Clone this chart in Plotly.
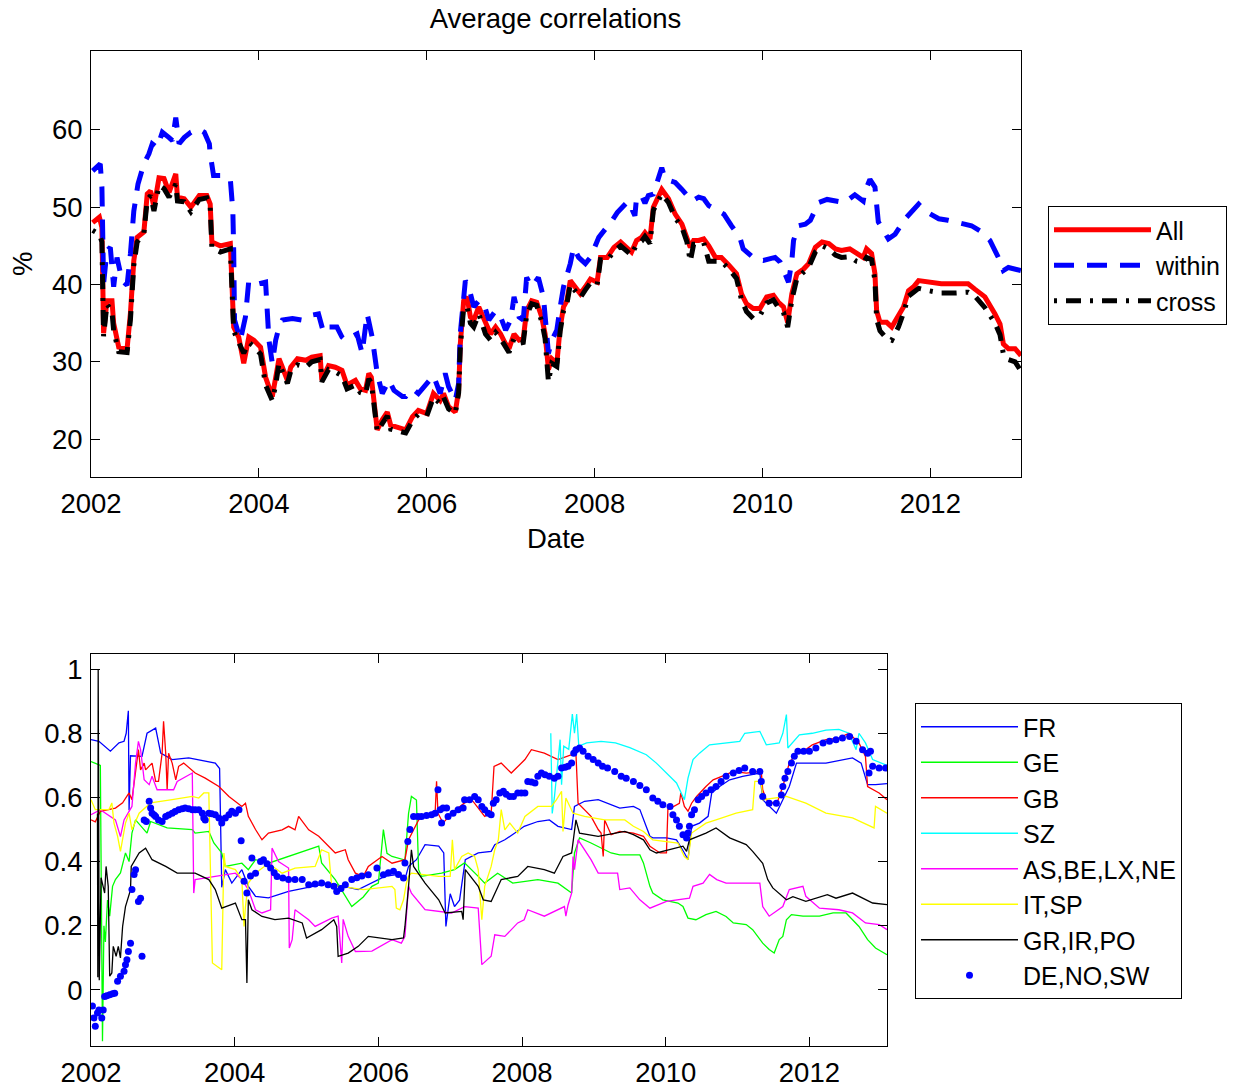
import plotly.graph_objects as go

# ---------------- Top panel: average correlations (%) ----------------
all_x = [2002.02,2002.10,2002.13,2002.15,2002.19,2002.25,2002.27,2002.33,2002.43,2002.47,2002.51,2002.55,2002.63,2002.67,2002.71,2002.75,2002.81,2002.87,2002.93,2003.01,2003.03,2003.11,2003.19,2003.29,2003.38,2003.42,2003.44,2003.54,2003.66,2003.68,2003.70,2003.76,2003.82,2003.88,2003.94,2004.02,2004.08,2004.16,2004.20,2004.24,2004.28,2004.34,2004.38,2004.46,2004.56,2004.63,2004.73,2004.75,2004.83,2004.91,2004.99,2005.05,2005.15,2005.21,2005.27,2005.31,2005.34,2005.41,2005.47,2005.53,2005.57,2005.65,2005.75,2005.83,2005.90,2006.00,2006.08,2006.16,2006.20,2006.26,2006.34,2006.38,2006.40,2006.44,2006.48,2006.52,2006.56,2006.62,2006.70,2006.76,2006.82,2006.88,2006.94,2006.98,2007.04,2007.10,2007.15,2007.19,2007.25,2007.31,2007.37,2007.41,2007.45,2007.49,2007.55,2007.59,2007.63,2007.67,2007.71,2007.77,2007.83,2007.89,2007.95,2008.03,2008.07,2008.15,2008.23,2008.31,2008.39,2008.44,2008.50,2008.56,2008.60,2008.66,2008.70,2008.80,2008.88,2008.96,2009.04,2009.10,2009.14,2009.18,2009.24,2009.30,2009.36,2009.44,2009.51,2009.60,2009.69,2009.75,2009.81,2009.89,2009.97,2010.05,2010.13,2010.19,2010.25,2010.30,2010.35,2010.41,2010.49,2010.55,2010.63,2010.71,2010.79,2010.87,2010.94,2011.04,2011.12,2011.20,2011.24,2011.30,2011.34,2011.36,2011.40,2011.48,2011.54,2011.62,2011.68,2011.74,2011.80,2011.86,2011.98,2012.13,2012.29,2012.45,2012.53,2012.65,2012.77,2012.83,2012.87,2012.93,2013.01,2013.08]
all_y = [48.0,48.7,47.4,33.7,37.9,37.9,35.0,31.9,31.7,36.3,43.1,46.1,46.8,51.7,52.1,50.0,53.8,53.7,51.9,54.3,51.3,51.1,50.0,51.5,51.5,50.4,45.5,45.0,45.3,37.9,34.5,33.2,29.8,33.2,32.8,31.9,28.0,25.5,27.6,30.4,29.3,27.6,29.3,30.4,30.2,30.6,30.8,27.6,29.5,29.3,28.9,27.0,27.6,26.5,26.3,28.5,28.0,21.2,22.5,23.5,21.8,21.6,21.2,22.9,23.7,23.3,25.9,25.0,25.9,24.2,23.5,26.3,32.3,37.9,38.4,35.8,35.4,37.1,34.9,33.6,34.5,33.6,32.3,31.7,33.6,32.8,33.0,36.6,37.9,37.7,35.8,33.6,29.0,30.4,29.8,34.5,37.1,37.9,40.5,39.7,38.8,39.7,40.7,40.3,43.5,43.5,44.8,45.5,44.8,44.2,45.7,46.1,46.7,45.9,50.0,52.3,51.1,49.1,47.8,46.1,44.8,45.7,45.7,45.9,45.0,43.5,43.5,42.5,41.4,38.8,37.5,36.9,36.9,38.4,38.6,37.7,37.1,35.1,38.8,41.4,42.0,42.7,44.8,45.5,45.3,44.6,44.4,44.6,44.0,43.5,44.6,44.0,41.4,36.6,35.1,35.1,34.5,36.0,37.1,39.2,39.7,40.5,40.3,40.1,40.1,40.1,39.4,38.4,36.2,34.9,32.3,31.7,31.7,30.8]

within_x = [2002.02,2002.11,2002.13,2002.14,2002.15,2002.19,2002.23,2002.27,2002.31,2002.37,2002.43,2002.47,2002.51,2002.56,2002.63,2002.69,2002.73,2002.79,2002.85,2002.93,2002.97,2003.01,2003.05,2003.11,2003.19,2003.29,2003.35,2003.41,2003.42,2003.46,2003.56,2003.66,2003.69,2003.70,2003.71,2003.78,2003.84,2003.88,2004.00,2004.08,2004.09,2004.12,2004.16,2004.20,2004.24,2004.28,2004.40,2004.51,2004.61,2004.71,2004.77,2004.83,2004.93,2004.99,2005.03,2005.11,2005.17,2005.23,2005.26,2005.29,2005.35,2005.41,2005.47,2005.55,2005.61,2005.71,2005.75,2005.83,2005.90,2006.04,2006.08,2006.16,2006.22,2006.26,2006.34,2006.38,2006.40,2006.46,2006.50,2006.56,2006.62,2006.68,2006.74,2006.82,2006.88,2006.94,2007.00,2007.04,2007.10,2007.15,2007.19,2007.25,2007.33,2007.39,2007.43,2007.45,2007.49,2007.55,2007.59,2007.63,2007.71,2007.75,2007.81,2007.89,2007.95,2008.05,2008.21,2008.27,2008.40,2008.48,2008.50,2008.56,2008.60,2008.64,2008.70,2008.80,2008.84,2008.96,2009.04,2009.16,2009.24,2009.30,2009.36,2009.54,2009.63,2009.73,2009.77,2009.91,2010.01,2010.15,2010.21,2010.31,2010.35,2010.37,2010.43,2010.51,2010.57,2010.67,2010.77,2010.98,2011.10,2011.20,2011.22,2011.28,2011.34,2011.36,2011.38,2011.50,2011.58,2011.70,2011.86,2011.94,2012.10,2012.21,2012.41,2012.49,2012.61,2012.71,2012.81,2012.87,2012.93,2013.08]
within_y = [54.7,55.6,52.6,48.7,40.1,44.4,44.8,39.7,43.5,40.5,39.9,44.0,49.5,53.0,55.6,56.9,58.2,57.7,59.7,59.0,58.6,61.6,58.2,59.0,59.7,60.1,59.7,58.2,56.9,54.1,54.1,53.6,49.5,44.4,35.4,32.8,35.8,40.5,40.1,40.3,37.9,32.8,29.8,32.8,34.5,35.4,35.6,35.4,36.0,36.2,33.8,34.5,34.5,33.2,32.8,33.2,33.6,31.1,33.6,36.2,33.2,28.5,25.9,27.6,26.3,25.5,25.5,26.5,25.9,27.6,28.2,25.9,28.5,26.8,25.0,27.2,33.7,40.5,39.7,37.1,37.9,37.5,35.4,36.6,35.8,34.1,35.4,38.4,35.8,35.4,40.9,39.7,40.9,38.4,34.1,31.1,32.8,34.1,37.1,39.7,42.7,44.8,43.5,42.7,43.5,46.1,48.3,49.3,50.8,48.9,51.3,51.5,50.5,51.5,51.7,55.1,53.6,53.2,52.3,50.8,51.3,51.1,50.2,49.1,47.6,46.1,44.6,43.3,43.1,43.5,42.9,40.3,43.1,45.7,47.6,47.8,48.3,50.6,51.0,50.6,51.6,50.8,52.0,53.6,52.6,49.1,48.1,45.9,46.5,48.5,50.4,49.5,48.5,48.3,47.8,47.6,46.8,45.7,43.5,41.8,42.2,41.8]

cross_x = [2002.02,2002.10,2002.13,2002.15,2002.19,2002.25,2002.27,2002.33,2002.43,2002.47,2002.51,2002.55,2002.63,2002.67,2002.71,2002.75,2002.81,2002.87,2002.93,2003.01,2003.03,2003.11,2003.19,2003.29,2003.38,2003.42,2003.44,2003.54,2003.66,2003.68,2003.70,2003.76,2003.82,2003.88,2003.94,2004.02,2004.08,2004.16,2004.20,2004.24,2004.28,2004.34,2004.38,2004.46,2004.56,2004.63,2004.73,2004.75,2004.83,2004.91,2004.99,2005.05,2005.15,2005.21,2005.27,2005.31,2005.34,2005.41,2005.47,2005.53,2005.57,2005.65,2005.75,2005.83,2005.90,2006.00,2006.08,2006.16,2006.20,2006.26,2006.34,2006.38,2006.40,2006.44,2006.48,2006.52,2006.56,2006.62,2006.70,2006.76,2006.82,2006.88,2006.94,2006.98,2007.04,2007.10,2007.15,2007.19,2007.25,2007.31,2007.37,2007.41,2007.45,2007.49,2007.55,2007.59,2007.63,2007.67,2007.71,2007.77,2007.83,2007.89,2007.95,2008.03,2008.07,2008.15,2008.23,2008.31,2008.39,2008.44,2008.50,2008.56,2008.60,2008.66,2008.70,2008.80,2008.88,2008.96,2009.04,2009.10,2009.14,2009.18,2009.24,2009.30,2009.36,2009.44,2009.51,2009.60,2009.69,2009.75,2009.81,2009.89,2009.97,2010.05,2010.13,2010.19,2010.25,2010.30,2010.35,2010.41,2010.49,2010.55,2010.63,2010.71,2010.79,2010.87,2010.94,2011.04,2011.12,2011.20,2011.24,2011.30,2011.34,2011.36,2011.40,2011.48,2011.54,2011.62,2011.68,2011.74,2011.80,2011.86,2011.98,2012.13,2012.29,2012.45,2012.53,2012.65,2012.77,2012.83,2012.87,2012.93,2013.01,2013.08]
cross_y = [47.0,46.5,45.5,33.3,37.5,36.5,34.0,31.3,31.2,35.5,42.5,45.5,46.6,51.0,51.5,49.5,52.8,52.4,51.3,53.0,50.8,50.7,49.4,51.0,51.2,50.0,44.7,44.2,44.6,37.5,34.0,32.5,31.1,32.5,32.0,31.0,27.0,25.0,27.0,29.8,28.6,27.2,28.8,29.6,29.3,30.0,30.3,27.4,29.0,28.7,28.2,26.5,27.0,26.0,25.8,27.8,27.3,21.0,22.0,23.0,21.3,21.1,20.8,22.4,23.2,23.0,25.4,24.6,25.4,23.9,23.3,26.0,32.0,37.0,37.1,35.0,34.5,36.2,33.6,32.8,33.8,33.0,31.8,31.2,33.0,32.4,32.5,36.0,37.5,37.3,35.2,33.0,27.4,29.8,29.4,34.0,36.6,37.5,40.0,39.2,38.3,39.3,40.2,39.9,43.2,43.1,44.3,45.0,44.2,43.8,45.2,45.6,46.2,45.3,49.6,51.7,50.6,48.6,47.4,45.5,43.0,45.2,45.2,45.4,43.0,43.0,43.0,42.0,40.8,38.0,36.5,35.6,36.0,37.6,38.0,37.0,36.4,34.5,38.0,40.8,41.5,42.2,44.2,45.0,44.6,43.8,43.5,43.6,43.0,42.8,43.5,43.2,40.5,35.5,34.0,33.0,32.8,34.5,36.3,38.5,39.0,39.5,39.2,38.9,38.9,39.0,38.5,37.0,35.0,33.5,31.0,30.3,30.0,28.8]

# ---------------- Bottom panel: country-group correlations ----------------
fr_x = [2002.00,2002.11,2002.27,2002.39,2002.46,2002.49,2002.52,2002.53,2002.55,2002.71,2002.78,2002.90,2002.97,2003.13,2003.36,2003.59,2003.73,2003.79,2003.82,2003.87,2003.96,2004.10,2004.19,2004.29,2004.47,2004.75,2005.12,2005.31,2005.72,2005.91,2006.09,2006.28,2006.37,2006.42,2006.53,2006.65,2006.84,2006.91,2006.94,2007.00,2007.06,2007.13,2007.21,2007.39,2007.57,2007.62,2007.76,2007.90,2008.03,2008.22,2008.38,2008.50,2008.69,2008.73,2008.87,2009.06,2009.24,2009.36,2009.55,2009.64,2009.78,2009.82,2010.01,2010.15,2010.26,2010.31,2010.36,2010.47,2010.59,2010.64,2010.75,2010.89,2011.07,2011.31,2011.35,2011.49,2011.54,2011.63,2011.72,2011.82,2011.95,2012.23,2012.60,2012.72,2012.81,2012.92,2013.08]
fr_y = [0.780,0.775,0.744,0.770,0.775,0.800,0.870,0.560,0.730,0.728,0.800,0.816,0.738,0.718,0.723,0.712,0.707,0.690,0.320,0.375,0.333,0.375,0.323,0.292,0.287,0.307,0.323,0.333,0.313,0.333,0.354,0.360,0.345,0.385,0.406,0.453,0.448,0.427,0.198,0.300,0.260,0.280,0.406,0.427,0.432,0.453,0.468,0.489,0.510,0.525,0.530,0.510,0.500,0.572,0.588,0.593,0.577,0.567,0.572,0.562,0.479,0.474,0.474,0.468,0.427,0.406,0.510,0.520,0.541,0.614,0.634,0.655,0.666,0.676,0.593,0.562,0.551,0.593,0.634,0.707,0.707,0.707,0.723,0.707,0.640,0.640,0.643]

ge_x = [2002.00,2002.13,2002.16,2002.18,2002.20,2002.23,2002.26,2002.30,2002.34,2002.41,2002.48,2002.53,2002.57,2002.62,2002.78,2002.83,2003.06,2003.41,2003.45,2003.64,2003.71,2003.82,2003.87,2004.10,2004.19,2004.29,2004.47,2004.75,2004.89,2005.17,2005.21,2005.40,2005.63,2005.79,2005.91,2006.00,2006.07,2006.12,2006.19,2006.37,2006.42,2006.46,2006.53,2006.56,2006.60,2006.88,2007.06,2007.20,2007.39,2007.48,2007.66,2007.87,2008.22,2008.50,2008.69,2008.73,2008.80,2008.96,2009.24,2009.36,2009.64,2009.69,2009.78,2009.82,2009.96,2010.06,2010.17,2010.24,2010.31,2010.42,2010.56,2010.70,2010.84,2010.94,2011.12,2011.21,2011.35,2011.44,2011.51,2011.58,2011.63,2011.68,2011.75,2011.91,2012.14,2012.33,2012.51,2012.60,2012.69,2012.81,2012.92,2013.08]
ge_y = [0.712,0.700,-0.160,0.200,0.150,0.280,0.230,0.323,0.344,0.365,0.427,0.400,0.489,0.530,0.489,0.525,0.505,0.500,0.489,0.494,0.458,0.427,0.385,0.395,0.375,0.406,0.395,0.416,0.427,0.448,0.396,0.344,0.260,0.290,0.323,0.333,0.500,0.426,0.416,0.405,0.550,0.603,0.592,0.375,0.354,0.364,0.375,0.396,0.354,0.333,0.364,0.333,0.344,0.333,0.302,0.427,0.474,0.458,0.427,0.421,0.421,0.396,0.323,0.302,0.281,0.276,0.271,0.260,0.224,0.219,0.235,0.245,0.229,0.209,0.204,0.188,0.146,0.126,0.115,0.157,0.167,0.219,0.235,0.230,0.230,0.240,0.240,0.219,0.198,0.157,0.131,0.110]

gb_x = [2002.00,2002.06,2002.13,2002.34,2002.44,2002.53,2002.57,2002.62,2002.66,2002.69,2002.74,2002.76,2002.85,2002.90,2002.94,2002.99,2003.01,2003.04,2003.06,2003.08,2003.13,2003.18,2003.22,2003.29,2003.45,2003.59,2003.78,2003.92,2004.10,2004.15,2004.19,2004.29,2004.38,2004.47,2004.66,2004.75,2004.84,2004.89,2005.03,2005.17,2005.26,2005.40,2005.54,2005.58,2005.68,2005.79,2005.86,2006.05,2006.19,2006.37,2006.42,2006.49,2006.56,2006.74,2006.79,2006.81,2006.83,2006.90,2007.02,2007.20,2007.30,2007.48,2007.57,2007.61,2007.71,2007.85,2008.04,2008.13,2008.31,2008.50,2008.75,2008.78,2008.96,2009.06,2009.10,2009.13,2009.15,2009.24,2009.36,2009.55,2009.69,2009.78,2009.92,2010.01,2010.03,2010.19,2010.21,2010.26,2010.31,2010.36,2010.43,2010.56,2010.66,2010.84,2010.94,2011.12,2011.33,2011.35,2011.40,2011.54,2011.58,2011.63,2011.72,2011.82,2011.95,2012.04,2012.23,2012.41,2012.55,2012.69,2012.78,2012.81,2012.97,2013.08]
gb_y = [0.530,0.524,0.557,0.567,0.583,0.614,0.593,0.686,0.749,0.686,0.707,0.686,0.707,0.650,0.650,0.738,0.837,0.738,0.624,0.738,0.707,0.655,0.697,0.707,0.676,0.660,0.634,0.603,0.572,0.582,0.541,0.500,0.468,0.489,0.499,0.510,0.499,0.541,0.499,0.479,0.458,0.427,0.437,0.406,0.364,0.354,0.385,0.416,0.395,0.406,0.468,0.500,0.530,0.551,0.551,0.650,0.551,0.520,0.551,0.583,0.593,0.541,0.551,0.697,0.707,0.676,0.718,0.749,0.738,0.718,0.738,0.582,0.541,0.500,0.489,0.416,0.530,0.484,0.494,0.489,0.479,0.448,0.427,0.427,0.562,0.582,0.614,0.572,0.557,0.582,0.603,0.634,0.655,0.671,0.681,0.676,0.681,0.624,0.593,0.577,0.603,0.634,0.707,0.738,0.749,0.764,0.780,0.785,0.800,0.770,0.728,0.634,0.614,0.593]

sz_x = [2008.40,2008.42,2008.45,2008.53,2008.55,2008.58,2008.65,2008.70,2008.73,2008.76,2008.79,2008.90,2009.10,2009.30,2009.50,2009.73,2009.87,2010.01,2010.15,2010.26,2010.31,2010.38,2010.47,2010.61,2010.84,2011.03,2011.10,2011.31,2011.40,2011.58,2011.63,2011.68,2011.70,2011.86,2012.04,2012.23,2012.41,2012.55,2012.65,2012.69,2012.78,2012.88,2013.08]
sz_y = [0.800,0.550,0.600,0.780,0.640,0.760,0.750,0.860,0.800,0.860,0.760,0.770,0.775,0.770,0.755,0.733,0.707,0.676,0.645,0.593,0.660,0.718,0.738,0.764,0.770,0.775,0.800,0.806,0.764,0.770,0.800,0.858,0.754,0.795,0.800,0.810,0.812,0.800,0.749,0.800,0.770,0.718,0.700]

as_x = [2002.00,2002.13,2002.34,2002.39,2002.41,2002.46,2002.57,2002.62,2002.66,2002.69,2002.74,2002.81,2002.85,2002.92,2003.15,2003.20,2003.36,2003.41,2003.43,2003.45,2003.73,2004.01,2004.10,2004.19,2004.29,2004.38,2004.50,2004.52,2004.61,2004.75,2004.76,2004.80,2004.84,2005.03,2005.12,2005.35,2005.44,2005.49,2005.51,2005.58,2005.68,2005.79,2005.91,2006.19,2006.32,2006.37,2006.42,2006.46,2006.65,2007.02,2007.20,2007.39,2007.44,2007.57,2007.62,2007.76,2007.94,2008.03,2008.08,2008.31,2008.50,2008.59,2008.61,2008.64,2008.69,2008.71,2008.73,2008.78,2008.96,2009.06,2009.33,2009.36,2009.50,2009.64,2009.78,2010.01,2010.33,2010.38,2010.52,2010.61,2010.71,2010.84,2011.31,2011.35,2011.44,2011.63,2011.72,2011.91,2011.95,2012.14,2012.41,2012.60,2012.78,2012.97,2013.08]
as_y = [0.546,0.562,0.530,0.489,0.478,0.530,0.572,0.707,0.775,0.749,0.655,0.640,0.666,0.624,0.624,0.650,0.671,0.676,0.302,0.344,0.354,0.364,0.344,0.313,0.250,0.240,0.250,0.442,0.400,0.380,0.131,0.157,0.250,0.219,0.198,0.224,0.230,0.084,0.220,0.167,0.120,0.120,0.121,0.157,0.146,0.167,0.323,0.302,0.250,0.240,0.260,0.255,0.079,0.105,0.172,0.167,0.209,0.219,0.250,0.230,0.250,0.260,0.230,0.265,0.302,0.416,0.375,0.468,0.406,0.364,0.364,0.313,0.318,0.281,0.255,0.276,0.286,0.323,0.333,0.360,0.344,0.333,0.333,0.260,0.230,0.260,0.313,0.323,0.292,0.255,0.250,0.240,0.209,0.204,0.188]

it_x = [2002.00,2002.06,2002.25,2002.29,2002.32,2002.37,2002.41,2002.48,2002.53,2002.57,2002.67,2002.83,2003.13,2003.41,2003.50,2003.57,2003.64,2003.69,2003.82,2003.85,2003.87,2004.01,2004.10,2004.13,2004.15,2004.19,2004.29,2004.47,2004.66,2004.84,2005.12,2005.17,2005.21,2005.31,2005.35,2005.49,2005.79,2006.19,2006.23,2006.25,2006.30,2006.35,2006.39,2006.42,2006.46,2006.84,2007.00,2007.03,2007.06,2007.16,2007.25,2007.34,2007.39,2007.44,2007.48,2007.57,2007.62,2007.67,2007.71,2007.76,2007.83,2007.94,2008.04,2008.22,2008.41,2008.48,2008.55,2008.57,2008.61,2008.71,2008.87,2009.15,2009.43,2009.55,2009.69,2009.82,2010.17,2010.26,2010.31,2010.36,2010.56,2010.70,2010.98,2011.21,2011.24,2011.33,2011.35,2011.68,2011.95,2012.23,2012.60,2012.90,2012.92,2013.08]
it_y = [0.593,0.562,0.562,0.583,0.520,0.479,0.432,0.520,0.551,0.499,0.551,0.583,0.593,0.603,0.598,0.614,0.614,0.084,0.063,0.427,0.385,0.375,0.344,0.198,0.260,0.333,0.364,0.395,0.364,0.380,0.385,0.416,0.437,0.427,0.323,0.323,0.313,0.323,0.313,0.255,0.250,0.281,0.333,0.354,0.364,0.354,0.354,0.468,0.375,0.416,0.427,0.416,0.375,0.219,0.323,0.385,0.437,0.468,0.562,0.499,0.520,0.489,0.541,0.572,0.572,0.593,0.619,0.494,0.598,0.551,0.541,0.530,0.530,0.510,0.494,0.468,0.458,0.416,0.406,0.489,0.520,0.530,0.551,0.562,0.650,0.650,0.593,0.603,0.582,0.551,0.536,0.505,0.572,0.551]

gr_x = [2002.09,2002.095,2002.10,2002.115,2002.14,2002.17,2002.19,2002.21,2002.24,2002.26,2002.29,2002.31,2002.35,2002.38,2002.41,2002.44,2002.48,2002.55,2002.56,2002.67,2002.76,2002.85,2003.04,2003.20,2003.45,2003.64,2003.73,2003.82,2004.01,2004.10,2004.15,2004.17,2004.19,2004.24,2004.38,2004.56,2004.75,2004.94,2005.00,2005.21,2005.38,2005.42,2005.44,2005.58,2005.72,2005.86,2006.19,2006.35,2006.37,2006.42,2006.46,2006.49,2006.65,2006.84,2006.93,2007.16,2007.18,2007.21,2007.39,2007.46,2007.57,2007.71,2007.94,2008.08,2008.31,2008.45,2008.57,2008.69,2008.75,2008.80,2009.06,2009.43,2009.55,2009.69,2009.78,2009.87,2010.24,2010.29,2010.33,2010.56,2010.70,2010.89,2011.12,2011.21,2011.35,2011.42,2011.49,2011.68,2011.77,2011.95,2012.25,2012.37,2012.60,2012.88,2013.08]
gr_y = [0.550,0.040,1.000,0.030,0.350,0.323,0.302,0.385,0.323,0.043,0.053,0.136,0.105,0.136,0.100,0.198,0.260,0.312,0.385,0.427,0.442,0.406,0.385,0.364,0.364,0.344,0.313,0.255,0.271,0.219,0.219,0.022,0.281,0.250,0.229,0.219,0.224,0.209,0.162,0.188,0.219,0.198,0.105,0.115,0.136,0.167,0.157,0.162,0.198,0.323,0.437,0.385,0.333,0.281,0.240,0.245,0.219,0.375,0.323,0.281,0.276,0.344,0.354,0.385,0.375,0.364,0.416,0.427,0.530,0.489,0.479,0.494,0.484,0.468,0.437,0.427,0.448,0.432,0.468,0.489,0.505,0.474,0.453,0.432,0.395,0.344,0.318,0.281,0.291,0.276,0.297,0.286,0.302,0.271,0.266]

de_x = [2002.02,2002.04,2002.06,2002.09,2002.11,2002.15,2002.17,2002.19,2002.22,2002.26,2002.30,2002.33,2002.37,2002.41,2002.46,2002.48,2002.50,2002.52,2002.55,2002.57,2002.60,2002.62,2002.66,2002.69,2002.71,2002.74,2002.77,2002.81,2002.83,2002.85,2002.88,2002.90,2002.94,2002.99,2003.04,2003.08,2003.13,2003.17,2003.22,2003.27,2003.31,2003.36,2003.41,2003.45,2003.50,2003.55,2003.57,2003.59,2003.64,2003.68,2003.73,2003.78,2003.82,2003.87,2003.92,2003.96,2004.01,2004.06,2004.09,2004.13,2004.17,2004.22,2004.24,2004.29,2004.36,2004.40,2004.45,2004.50,2004.55,2004.59,2004.67,2004.75,2004.84,2004.94,2005.03,2005.12,2005.21,2005.30,2005.38,2005.42,2005.48,2005.54,2005.63,2005.70,2005.77,2005.86,2005.98,2006.07,2006.14,2006.21,2006.28,2006.35,2006.37,2006.41,2006.44,2006.49,2006.55,2006.60,2006.67,2006.74,2006.79,2006.83,2006.86,2006.88,2006.90,2006.95,2006.97,2007.04,2007.11,2007.18,2007.20,2007.27,2007.34,2007.39,2007.44,2007.48,2007.53,2007.57,2007.60,2007.64,2007.69,2007.74,2007.78,2007.83,2007.88,2007.94,2007.99,2008.04,2008.08,2008.13,2008.18,2008.22,2008.27,2008.32,2008.38,2008.45,2008.50,2008.55,2008.60,2008.64,2008.69,2008.72,2008.75,2008.80,2008.85,2008.92,2008.99,2009.06,2009.12,2009.19,2009.29,2009.38,2009.45,2009.55,2009.64,2009.73,2009.82,2009.89,2009.96,2010.06,2010.10,2010.15,2010.19,2010.24,2010.29,2010.31,2010.33,2010.36,2010.40,2010.45,2010.50,2010.56,2010.63,2010.70,2010.77,2010.84,2010.94,2011.02,2011.10,2011.21,2011.31,2011.33,2011.35,2011.44,2011.54,2011.61,2011.63,2011.66,2011.70,2011.75,2011.79,2011.84,2011.92,2012.00,2012.09,2012.19,2012.28,2012.37,2012.46,2012.56,2012.65,2012.74,2012.81,2012.83,2012.85,2012.88,2012.97,2013.06]
de_y = [-0.050,-0.087,-0.113,-0.072,-0.062,-0.087,-0.062,-0.020,-0.018,-0.015,-0.012,-0.010,0.027,0.043,0.058,0.079,0.094,0.120,0.146,0.313,0.360,0.375,0.276,0.286,0.105,0.530,0.525,0.588,0.567,0.551,0.545,0.541,0.530,0.525,0.541,0.545,0.551,0.556,0.562,0.565,0.567,0.565,0.562,0.562,0.562,0.551,0.536,0.530,0.551,0.549,0.546,0.536,0.520,0.536,0.546,0.557,0.551,0.562,0.465,0.339,0.302,0.355,0.411,0.364,0.400,0.406,0.393,0.380,0.365,0.354,0.349,0.344,0.344,0.344,0.328,0.330,0.333,0.328,0.323,0.307,0.316,0.328,0.344,0.350,0.355,0.359,0.380,0.359,0.365,0.370,0.360,0.349,0.396,0.463,0.500,0.541,0.541,0.541,0.544,0.546,0.551,0.624,0.562,0.520,0.567,0.567,0.541,0.551,0.562,0.567,0.593,0.593,0.603,0.593,0.572,0.562,0.551,0.546,0.582,0.593,0.614,0.619,0.610,0.603,0.603,0.614,0.614,0.614,0.650,0.648,0.645,0.666,0.676,0.671,0.666,0.660,0.666,0.692,0.694,0.697,0.707,0.738,0.749,0.754,0.744,0.728,0.718,0.707,0.697,0.692,0.681,0.666,0.660,0.650,0.637,0.624,0.598,0.588,0.577,0.572,0.546,0.530,0.510,0.484,0.474,0.489,0.510,0.546,0.562,0.593,0.603,0.614,0.624,0.634,0.650,0.666,0.676,0.684,0.692,0.681,0.681,0.650,0.603,0.582,0.582,0.608,0.634,0.660,0.681,0.707,0.728,0.744,0.744,0.744,0.754,0.770,0.775,0.780,0.785,0.790,0.775,0.749,0.738,0.676,0.744,0.697,0.692,0.692]

FONT = "Liberation Sans, Arial, Helvetica, sans-serif"
FS = 27.5      # axis / title text size
LFS = 25       # legend text size (keeps the reference row spacing)
W, H = 1236, 1086

fig = go.Figure()

# top panel traces
fig.add_trace(go.Scatter(x=all_x, y=all_y, name="All", mode="lines",
                         line=dict(color="#ff0000", width=5), xaxis="x", yaxis="y", legend="legend"))
fig.add_trace(go.Scatter(x=within_x, y=within_y, name="within", mode="lines",
                         line=dict(color="#0000ff", width=5, dash="20px,13px"), xaxis="x", yaxis="y", legend="legend"))
fig.add_trace(go.Scatter(x=cross_x, y=cross_y, name="cross", mode="lines",
                         line=dict(color="#000000", width=5, dash="3px,9px,15px,9px"), xaxis="x", yaxis="y", legend="legend"))

# bottom panel traces
bottom = [
    ("FR", fr_x, fr_y, "#0000ff"),
    ("GE", ge_x, ge_y, "#00ff00"),
    ("GB", gb_x, gb_y, "#ff0000"),
    ("SZ", sz_x, sz_y, "#00ffff"),
    ("AS,BE,LX,NE", as_x, as_y, "#ff00ff"),
    ("IT,SP", it_x, it_y, "#ffff00"),
    ("GR,IR,PO", gr_x, gr_y, "#000000"),
]
for name, xs, ys, col in bottom:
    fig.add_trace(go.Scatter(x=xs, y=ys, name=name, mode="lines",
                             line=dict(color=col, width=1.3), xaxis="x2", yaxis="y2", legend="legend2"))
fig.add_trace(go.Scatter(x=de_x, y=de_y, name="DE,NO,SW", mode="markers",
                         marker=dict(color="#0000ff", size=7), xaxis="x2", yaxis="y2", legend="legend2"))

L = 91 / W
axis_common = dict(showgrid=False, zeroline=False, showline=True, linecolor="black", linewidth=1,
                   mirror="ticks", ticks="inside", ticklen=9, tickcolor="black",
                   tickfont=dict(family=FONT, size=FS, color="black"), automargin=False,
                   ticklabelstandoff=2)

fig.update_layout(
    width=W, height=H,
    margin=dict(l=0, r=0, t=0, b=0),
    paper_bgcolor="white", plot_bgcolor="white",
    font=dict(family=FONT, size=FS, color="black"),
    title=dict(text="Average correlations", x=555.5 / W, xanchor="center", y=1 - 18 / H, yanchor="middle",
               font=dict(family=FONT, size=FS, color="black")),
    xaxis=dict(domain=[L, 1021 / W], range=[2002, 2013.08], tickvals=[2002, 2004, 2006, 2008, 2010, 2012],
               anchor="y", **axis_common),
    yaxis=dict(domain=[1 - 477 / H, 1 - 51 / H], range=[15.1, 70.2], tickvals=[20, 30, 40, 50, 60],
               anchor="x", **axis_common),
    xaxis2=dict(domain=[L, 887 / W], range=[2002, 2013.08], tickvals=[2002, 2004, 2006, 2008, 2010, 2012],
                anchor="y2", **axis_common),
    yaxis2=dict(domain=[1 - 1045.5 / H, 1 - 654 / H], range=[-0.173, 1.047], tickvals=[0, 0.2, 0.4, 0.6, 0.8, 1],
                anchor="x2", **axis_common),
    legend=dict(x=1048 / W, y=1 - 206 / H, xanchor="left", yanchor="top", bgcolor="white",
                bordercolor="black", borderwidth=1, font=dict(family=FONT, size=LFS, color="black"),
                itemwidth=97),
    legend2=dict(x=915 / W, y=1 - 703 / H, xanchor="left", yanchor="top", bgcolor="white",
                 bordercolor="black", borderwidth=1, font=dict(family=FONT, size=LFS, color="black"),
                 itemwidth=97),
    annotations=[
        dict(text="Date", x=555.5 / W, y=1 - 538 / H, xref="paper", yref="paper", showarrow=False,
             xanchor="center", yanchor="middle", font=dict(family=FONT, size=FS, color="black")),
        dict(text="%", x=22 / W, y=1 - 264 / H, xref="paper", yref="paper", showarrow=False, textangle=-90,
             xanchor="center", yanchor="middle", font=dict(family=FONT, size=FS, color="black")),
    ],
)

fig.write_html("out.html", config={"displayModeBar": False},
               post_script="document.body.style.margin='0px';document.body.style.overflow='hidden';")
